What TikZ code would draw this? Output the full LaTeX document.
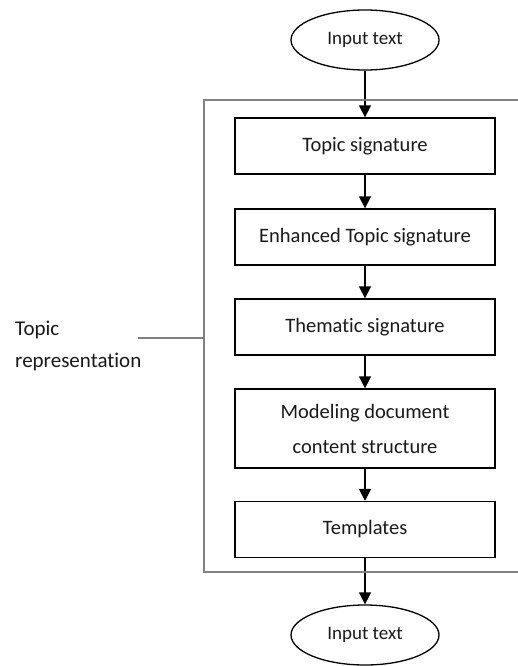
\documentclass[tikz,border=0pt]{standalone}
\usepackage{fontspec}
\setmainfont[Ligatures=NoCommon]{Carlito}
\usetikzlibrary{arrows.meta,shapes.geometric}
\definecolor{framegray}{RGB}{128,128,128}
\definecolor{txt}{RGB}{25,25,25}
\tikzset{
  stepbox/.style={draw=black,line width=1.3pt,minimum width=260pt,minimum height=56pt,inner sep=0pt,font=\fontsize{20.5}{35}\selectfont,text=txt,align=center},
  terminal/.style={draw=black,line width=1.3pt,ellipse,minimum width=148pt,minimum height=60pt,inner sep=0pt,font=\fontsize{19}{22}\selectfont,text=txt},
  flow/.style={line width=1.5pt,-{Triangle[width=12pt,length=12pt]}},
  frame/.style={draw=framegray,line width=1.2pt},
  link/.style={draw=framegray,line width=2.2pt}
}
\begin{document}
\begin{tikzpicture}[x=1pt,y=-1pt]
\useasboundingbox (0,0) rectangle (518,666);
\node[terminal] (in) at (365,40) {Input text};
\node[stepbox] (b1) at (365,146) {Topic signature};
\node[stepbox] (b2) at (365,237) {Enhanced Topic signature};
\node[stepbox] (b3) at (365,327) {Thematic signature};
\node[stepbox,minimum height=79pt] (b4) at (365,428.5) {Modeling document\\content structure};
\node[stepbox] (b5) at (365,529.5) {Templates};
\node[terminal] (out) at (365,635) {Input text};
\draw[flow] (in) -- (b1);
\draw[flow] (b1) -- (b2);
\draw[flow] (b2) -- (b3);
\draw[flow] (b3) -- (b4);
\draw[flow] (b4) -- (b5);
\draw[flow] (b5) -- (out);
\coordinate (ftr) at (518,100);
\coordinate (ftl) at (204,100);
\coordinate (fbl) at (204,572);
\coordinate (fbr) at (518,572);
\coordinate (fmid) at (204,338);
\draw[frame] (ftr) -- (ftl) -- (fbl) -- (fbr);
\node[anchor=west,align=left,inner sep=0pt,font=\fontsize{21}{32}\selectfont,text=txt] (lab) at (15,346) {Topic\\representation};
\coordinate (lend) at (138,338);
\draw[link] (lend) -- (fmid);
\end{tikzpicture}
\end{document}
